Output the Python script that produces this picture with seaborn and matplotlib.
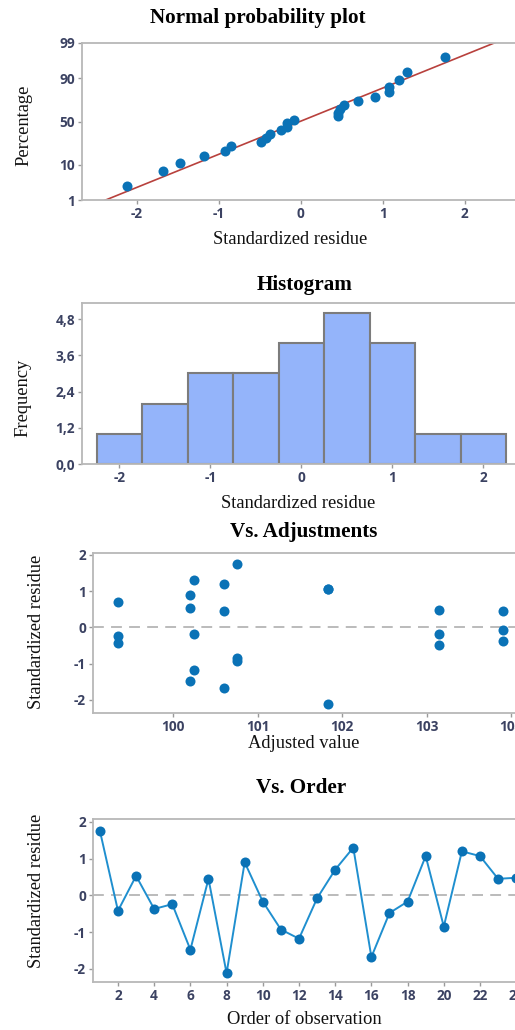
import numpy as np
import pandas as pd
import matplotlib
matplotlib.use("Agg")
import matplotlib.pyplot as plt
import seaborn as sns
from statistics import NormalDist

# ---------------- data ----------------
order = list(range(1, 25))
residue = [1.76, -0.42, 0.53, -0.37, -0.24, -1.48, 0.45, -2.12, 0.90, -0.17,
           -0.93, -1.18, -0.08, 0.70, 1.30, -1.68, -0.48, -0.17, 1.07, -0.85,
           1.20, 1.07, 0.45, 0.48]
fitted = [100.75, 99.35, 100.20, 103.90, 99.35, 100.20, 103.90, 101.83, 100.20, 100.25,
          100.75, 100.25, 103.90, 99.35, 100.25, 100.60, 103.15, 103.15, 101.83, 100.75,
          100.60, 101.83, 100.60, 103.15]
pct_ticks = [1, 10, 50, 90, 99]
hist_yticks = [0.0, 1.2, 2.4, 3.6, 4.8]
hist_ylabels = ["0,0", "1,2", "2,4", "3,6", "4,8"]
adj_xticks = [100, 101, 102, 103, 104]
order_xticks = [2, 4, 6, 8, 10, 12, 14, 16, 18, 20, 22, 24]
resid_yticks = [-2, -1, 0, 1, 2]

# ---------------- style ----------------
sns.set_theme(style="white")
plt.rcParams['font.family'] = ['DejaVu Sans']
plt.rcParams['axes.unicode_minus'] = False
W, H = 515, 1030
fig = plt.figure(figsize=(W / 100, H / 100), dpi=100)
fig.patch.set_facecolor("white")

DOT = "#0a72b6"
LINE = "#1f8fcf"
SPINE = "#b8b8b8"
TICKC = "#3b4262"
serif = "Liberation Serif"
tickfont = dict(family="Open Sans", weight="bold", size=9.8, color=TICKC)


def axes_px(l, t, r, b):
    return fig.add_axes([l / W, 1 - b / H, (r - l) / W, (b - t) / H])


def style(ax):
    for s in ax.spines.values():
        s.set_color(SPINE)
        s.set_linewidth(1.3)
    ax.tick_params(axis="both", length=3, width=1, color="#9a9a9a", pad=2,
                   direction="out", bottom=True, left=True)
    for lab in ax.get_xticklabels() + ax.get_yticklabels():
        lab.set_fontfamily(tickfont["family"])
        lab.set_fontweight(tickfont["weight"])
        lab.set_fontsize(tickfont["size"])
        lab.set_color(tickfont["color"])
    ax.set_xlabel("")
    ax.set_ylabel("")
    ax.grid(False)


def title(x, y, s):
    fig.text(x / W, 1 - y / H, s, ha="center", va="center", family=serif,
             weight="bold", fontsize=15.2, color="black")


def label(x, y, s, rot=0):
    fig.text(x / W, 1 - y / H, s, ha="center", va="center", family=serif,
             fontsize=13.3, color="#111111", rotation=rot)


nd = NormalDist()
res = np.array(residue)
n = len(res)

# ---------------- 1. normal probability plot ----------------
ax1 = axes_px(82, 43, 518, 200)
srt = np.sort(res)
ranks = np.arange(1, n + 1)
zpos = np.array([nd.inv_cdf((i - 0.3) / (n + 0.4)) for i in ranks])
mu, sd = res.mean(), res.std(ddof=1)
zlim = nd.inv_cdf(0.99)
zline = np.array([-zlim - 0.2, zlim + 0.2])
sns.lineplot(x=mu + sd * zline, y=zline, ax=ax1, color="#b8413d", lw=1.2)
sns.scatterplot(x=srt, y=zpos, ax=ax1, color=DOT, s=52, edgecolor=DOT, linewidth=0, zorder=3)
ax1.set_xlim(-2.67, 2.65)
ax1.set_ylim(nd.inv_cdf(0.01), nd.inv_cdf(0.99))
ax1.set_xticks([-2, -1, 0, 1, 2])
ax1.set_yticks([nd.inv_cdf(p / 100) for p in pct_ticks])
ax1.set_yticklabels([str(p) for p in pct_ticks])
style(ax1)
title(258, 18, "Normal probability plot")
label(290, 240, "Standardized residue")
label(24, 125, "Percentage", rot=90)

# ---------------- 2. histogram ----------------
ax2 = axes_px(82, 303, 518, 464)
sns.histplot(x=res, binrange=(-2.25, 2.25), binwidth=0.5, ax=ax2,
             color="#94b4fa", edgecolor="#7c7c7c", linewidth=1.5, alpha=1)
ax2.set_xlim(-2.41, 2.38)
ax2.set_ylim(0, 5.33)
ax2.set_xticks([-2, -1, 0, 1, 2])
ax2.set_yticks(hist_yticks)
ax2.set_yticklabels(hist_ylabels)
style(ax2)
title(305, 285, "Histogram")
label(298, 503, "Standardized residue")
label(23, 398, "Frequency", rot=90)

# ---------------- 3. vs adjustments ----------------
ax3 = axes_px(93, 553, 518, 713)
ax3.axhline(0, color="#b5b5b5", lw=1.3, ls=(0, (6, 4)), zorder=1)
sns.scatterplot(x=fitted, y=residue, ax=ax3, color=DOT, s=52, edgecolor=DOT, linewidth=0, zorder=3)
ax3.set_xlim(99.05, 104.08)
ax3.set_ylim(-2.36, 2.05)
ax3.set_xticks(adj_xticks)
ax3.set_yticks(resid_yticks)
style(ax3)
title(304, 532, "Vs. Adjustments")
label(304, 743, "Adjusted value")
label(37, 632, "Standardized residue", rot=90)

# ---------------- 4. vs order ----------------
ax4 = axes_px(93, 819, 518, 982)
ax4.axhline(0, color="#b5b5b5", lw=1.3, ls=(0, (6, 4)), zorder=1)
df = pd.DataFrame({"order": order, "residue": residue})
sns.lineplot(data=df, x="order", y="residue", ax=ax4, color=LINE, lw=1.4, zorder=2)
sns.scatterplot(data=df, x="order", y="residue", ax=ax4, color=DOT, s=52,
                edgecolor=DOT, linewidth=0, zorder=3)
ax4.set_xlim(0.62, 24.1)
ax4.set_ylim(-2.36, 2.08)
ax4.set_xticks(order_xticks)
ax4.set_yticks(resid_yticks)
style(ax4)
title(301, 788, "Vs. Order")
label(304, 1020, "Order of observation")
label(37, 891, "Standardized residue", rot=90)

fig.savefig("out.png", dpi=100, facecolor="white")
